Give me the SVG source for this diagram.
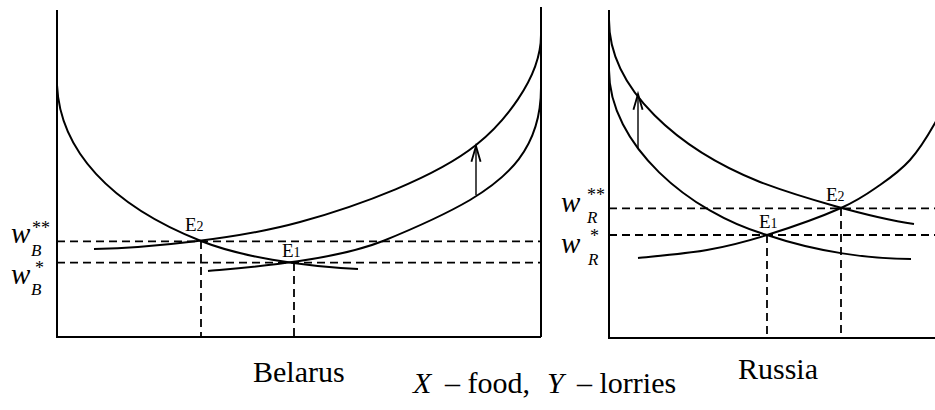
<svg xmlns="http://www.w3.org/2000/svg" width="935" height="410" viewBox="0 0 935 410">
<style>
.ax{stroke:#000;stroke-width:2;fill:none}
.cv{stroke:#000;stroke-width:2;fill:none}
.ds{stroke:#000;stroke-width:1.8;stroke-dasharray:8 5;fill:none}
.ar{stroke:#000;stroke-width:1.4;fill:none}
.t{font-family:"Liberation Serif","Times New Roman",serif;fill:#000}
.w{font-style:italic;font-size:29px}
.sub{font-style:italic;font-size:17px}
.sup{font-size:18px}
.e{font-size:19px}
.big{font-size:30px}
</style>
<defs>
<marker id="ah" markerUnits="userSpaceOnUse" orient="auto" refX="0" refY="0" markerWidth="20" markerHeight="20" viewBox="-12 -6 14 12" overflow="visible">
<path d="M-11,-3.2 L0,0 L-11,3.2" stroke="#000" stroke-width="1.3" fill="none"/>
</marker>
</defs>
<g id="belarus-axes">
<path class="ax" d="M57,10 V337 H541 M541,7 V337"/>
</g>
<g id="russia-axes">
<path class="ax" d="M609,10 V338 H935"/>
</g>
<g id="guides">
<path class="ds" d="M57,241.3 H541 M57,262.7 H541 M201,241 V337 M294,263 V337"/>
<path class="ds" d="M609,208.3 H935 M609,235 H935 M767,235 V338 M841,208 V338"/>
</g>
<g id="belarus-curves">
<path class="cv" d="M57,85 C60,150 110,205 201,241 C240,256.6 300,266 358,269"/>
<path class="cv" d="M94,249 C150,248 240,238.5 300,222 C360,205.5 436,177 476,145 C501,125 541,80 541,35"/>
<path class="cv" d="M208,271 C240,268 330,262 383,241 C410,230 443,215.8 470,200 C505,179 541,150 541,88"/>
</g>
<g id="russia-curves">
<path class="cv" d="M609,20 C609,90 680,150 760,182 C800,197 870,217.5 914,224"/>
<path class="cv" d="M609,70 C609,145 690,213 767,235 C817,252 870,259 911,259"/>
<path class="cv" d="M638,258 C649.5,256.7 685.5,253.8 707,250 C728.5,246.2 744.7,242 767,235 C789.3,228 822.2,216.3 841,208 C859.8,199.7 868.5,193 880,185 C891.5,177 900.8,170.3 910,160 C919.2,149.7 927.5,136.3 935,123 C942.5,109.7 950,95 955,80"/>
</g>
<g id="shift-arrows">
<path class="ar" d="M476,195 V146" marker-end="url(#ah)"/>
<path class="ar" d="M638,149 V94" marker-end="url(#ah)"/>
</g>
<g id="labels-belarus">
<text class="t w" x="11" y="243">w</text>
<text class="t sub" x="31" y="256">B</text>
<text class="t sup" x="32" y="234">**</text>
<text class="t w" x="11" y="284">w</text>
<text class="t sub" x="31" y="295">B</text>
<text class="t sup" x="35" y="274">*</text>
<text class="t e" x="185" y="231">E<tspan font-size="14">2</tspan></text>
<text class="t e" x="282" y="257">E<tspan font-size="14">1</tspan></text>
</g>
<g id="labels-russia">
<text class="t w" x="561" y="212">w</text>
<text class="t sub" x="587" y="223">R</text>
<text class="t sup" x="587" y="201">**</text>
<text class="t w" x="561" y="253">w</text>
<text class="t sub" x="588" y="265">R</text>
<text class="t sup" x="590" y="242">*</text>
<text class="t e" x="759" y="228">E<tspan font-size="14">1</tspan></text>
<text class="t e" x="826" y="201">E<tspan font-size="14">2</tspan></text>
</g>
<g id="captions">
<text class="t big" x="253" y="382">Belarus</text>
<text class="t big" x="738" y="379">Russia</text>
<text class="t big" y="393"><tspan x="413" font-style="italic">X</tspan><tspan x="445">– food,</tspan><tspan x="547" font-style="italic">Y</tspan><tspan x="577">– lorries</tspan></text>
</g>
</svg>
